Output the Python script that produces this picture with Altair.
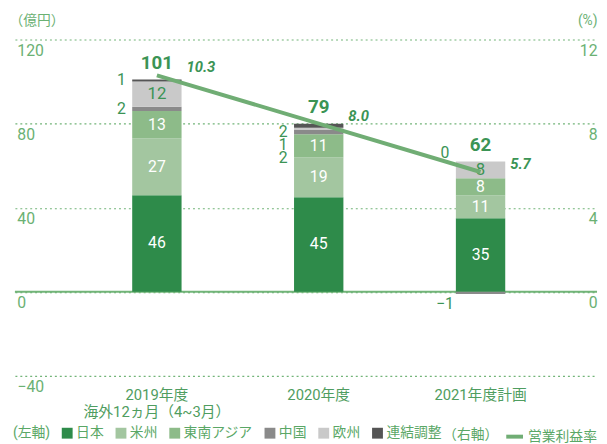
import altair as alt
import pandas as pd

# ---- data ----
years = ["2019年度", "2020年度", "2021年度計画"]
regions = ["日本", "米州", "東南アジア", "中国", "欧州", "連結調整"]
japan = [46, 45, 35]
americas = [27, 19, 11]
asean = [13, 11, 8]
china = [2, 2, -1]
europe = [12, 1, 8]
adjust = [1, 2, 0]
totals = [101, 79, 62]
margins = [10.3, 8.0, 5.7]

region_colors = ["#2e8b4a", "#a3c6a0", "#8dbb89", "#8a8a8a", "#c9c9c9", "#555555"]
GREEN_TXT = "#3b9455"
AXIS_TXT = "#6bb173"
LINE_COL = "#70ad74"
GRID_COL = "#72b478"
LEG_TXT = "#5aa766"
FONT = "Roboto, 'Noto Sans CJK JP'"


def fmt(v):
    return str(int(v)).replace("-", "\u2212")


series = [japan, americas, asean, china, europe, adjust]
rows = []
for i, yr in enumerate(years):
    pos, neg = 0.0, 0.0
    for k, reg in enumerate(regions):
        v = series[k][i]
        if v >= 0:
            y0, y1 = pos, pos + v
            pos += v
        else:
            y0, y1 = neg, neg + v
            neg += v
        rows.append(dict(year=yr, region=reg, idx=k, value=v, y0=y0, y1=y1,
                         mid=(y0 + y1) / 2, label=fmt(v)))
df = pd.DataFrame(rows)

tops = df[df.value > 0].groupby("year", sort=False).value.sum().to_dict()
tot_df = pd.DataFrame({"year": years, "top": [tops[y] for y in years],
                       "label": [str(t) for t in totals]})

inside_white = df[(df.value.abs() >= 5) & (df.region != "欧州")]
inside_green = df[(df.value.abs() >= 5) & (df.region == "欧州")]

out_rows = []
for yr in years:
    g = df[(df.year == yr) & (df.value.abs() < 5)]
    top = tops[yr]
    p = g[g.value > 0].sort_values("mid", ascending=False)
    mids = list(p.mid)
    crowded = any(a - b < 5 for a, b in zip(mids, mids[1:]))
    for j, (_, r) in enumerate(p.iterrows()):
        ly = top - 3.8 - 6.2 * j if crowded else r.mid
        out_rows.append(dict(year=yr, label=r.label, ly=ly))
    for _, r in g[g.value == 0].iterrows():
        out_rows.append(dict(year=yr, label=r.label, ly=top + 4))
    for _, r in g[g.value < 0].iterrows():
        out_rows.append(dict(year=yr, label=r.label, ly=r.y1 - 5))
out_df = pd.DataFrame(out_rows)

mdf = pd.DataFrame({"year": years, "margin": margins,
                    "mlabel": [f"{m:.1f}" for m in margins],
                    "series": ["営業利益率"] * len(years)})
zero_df = pd.DataFrame({"zero": [0]})

# ---- axes / scales ----
x_axis = alt.Axis(
    labelExpr="datum.value == '2019年度' ? ['2019年度', '海外12ヵ月（4~3月）'] : datum.value",
    labelAngle=0, labelFontSize=15, labelColor="#4f9d60", labelPadding=12,
    labelLineHeight=17, labelBaseline="top",
    ticks=False, domain=False, grid=False, title=None,
)
x_scale = alt.Scale(paddingInner=0.695, paddingOuter=0.646, align=0.561)


def X(center=False):
    if center:
        return alt.X("year:N", sort=years, title=None, axis=x_axis, scale=x_scale,
                     bandPosition=0.5)
    return alt.X("year:N", sort=years, title=None, axis=x_axis, scale=x_scale)


left_axis = alt.Axis(
    values=[-40, 0, 40, 80, 120], grid=True, gridDash=[2, 3], gridColor=GRID_COL,
    gridWidth=1.2, ticks=False, tickSize=0, domain=False,
    labelAlign="left", labelBaseline="top", labelPadding=-2, labelOffset=3,
    labelColor=AXIS_TXT, labelFontSize=16,
    title="（億円）", titleAngle=0, titleX=-6, titleY=-19, titleAlign="left",
    titleBaseline="middle", titleFontWeight="normal", titleColor=AXIS_TXT,
    titleFontSize=14,
)
yscale = alt.Scale(domain=[-40, 120], nice=False, zero=False)


def YL(field):
    return alt.Y(field, scale=yscale, axis=left_axis, title="（億円）")


right_axis = alt.Axis(
    values=[0, 4, 8, 12], grid=False, ticks=False, tickSize=0, domain=False,
    labelAlign="right", labelBaseline="top", labelPadding=0, labelOffset=3,
    labelColor=AXIS_TXT, labelFontSize=16, orient="right",
    title="(%)", titleAngle=0, titleX=0, titleY=-19, titleAlign="right",
    titleBaseline="middle", titleFontWeight="normal", titleColor=AXIS_TXT,
    titleFontSize=14,
)
yscale_r = alt.Scale(domain=[-4, 12], nice=False, zero=False)


def YR(field):
    return alt.Y(field, scale=yscale_r, axis=right_axis, title="(%)")


# ---- left (億円) layers ----
zero_rule = alt.Chart(zero_df).mark_rule(color=GRID_COL, strokeWidth=2).encode(
    y=YL("zero:Q")
)

bars = alt.Chart(df).mark_bar().encode(
    x=X(),
    y=YL("y0:Q"),
    y2="y1:Q",
    color=alt.Color(
        "region:N",
        scale=alt.Scale(domain=regions, range=region_colors),
        legend=alt.Legend(
            title="(左軸)", titleOrient="left", orient="none", legendX=-2,
            legendY=392, direction="horizontal", symbolType="square",
            symbolSize=121, symbolStrokeWidth=0, labelFontSize=14,
            labelColor=LEG_TXT, titleFontSize=14, titleFontWeight="normal",
            titleColor=LEG_TXT, columnPadding=10.5, labelOffset=2,
            titlePadding=10, titleBaseline="middle",
        ),
    ),
    order=alt.Order("idx:Q", sort="ascending"),
)

txt_white = alt.Chart(inside_white).mark_text(
    color="white", fontSize=16, baseline="middle"
).encode(x=X(True), y=YL("mid:Q"), text="label:N")

txt_green = alt.Chart(inside_green).mark_text(
    color=GREEN_TXT, fontSize=17, baseline="middle"
).encode(x=X(True), y=YL("mid:Q"), text="label:N")

txt_out = alt.Chart(out_df).mark_text(
    color=GREEN_TXT, fontSize=16, baseline="middle", dx=-36
).encode(x=X(True), y=YL("ly:Q"), text="label:N")

txt_tot = alt.Chart(tot_df).mark_text(
    color=GREEN_TXT, fontSize=19, fontWeight="bold", baseline="alphabetic", dy=-11
).encode(x=X(True), y=YL("top:Q"), text="label:N")

left_group = alt.layer(zero_rule, bars, txt_white, txt_green, txt_out, txt_tot)

# ---- right (%) layers ----
line = alt.Chart(mdf).mark_line(strokeWidth=4, strokeCap="butt").encode(
    x=X(True),
    y=YR("margin:Q"),
    stroke=alt.Stroke(
        "series:N",
        scale=alt.Scale(domain=["営業利益率"], range=[LINE_COL]),
        legend=alt.Legend(
            title="（右軸）", titleOrient="left", orient="none", legendX=434,
            legendY=392, direction="horizontal", symbolType="stroke",
            symbolStrokeWidth=4, symbolSize=289, labelFontSize=14,
            labelColor=LEG_TXT, titleFontSize=14, titleFontWeight="normal",
            titleColor=LEG_TXT, labelOffset=3, titlePadding=6,
            titleBaseline="middle",
        ),
    ),
)

mtext = alt.Chart(mdf).mark_text(
    color=GREEN_TXT, fontSize=15, fontStyle="italic", fontWeight="bold",
    align="left", baseline="alphabetic", dx=30, dy=-3
).encode(x=X(True), y=YR("margin:Q"), text="mlabel:N")

right_group = alt.layer(line, mtext)

chart = (
    alt.layer(left_group, right_group)
    .resolve_scale(y="independent")
    .properties(
        width=590, height=341,
        padding={"left": 7, "top": 29, "right": 2, "bottom": 66},
        autosize=alt.AutoSizeParams(type="none"),
    )
    .configure(font=FONT)
    .configure_view(stroke=None)
)

chart.save("out.html", embed_options={"renderer": "svg", "actions": False})
